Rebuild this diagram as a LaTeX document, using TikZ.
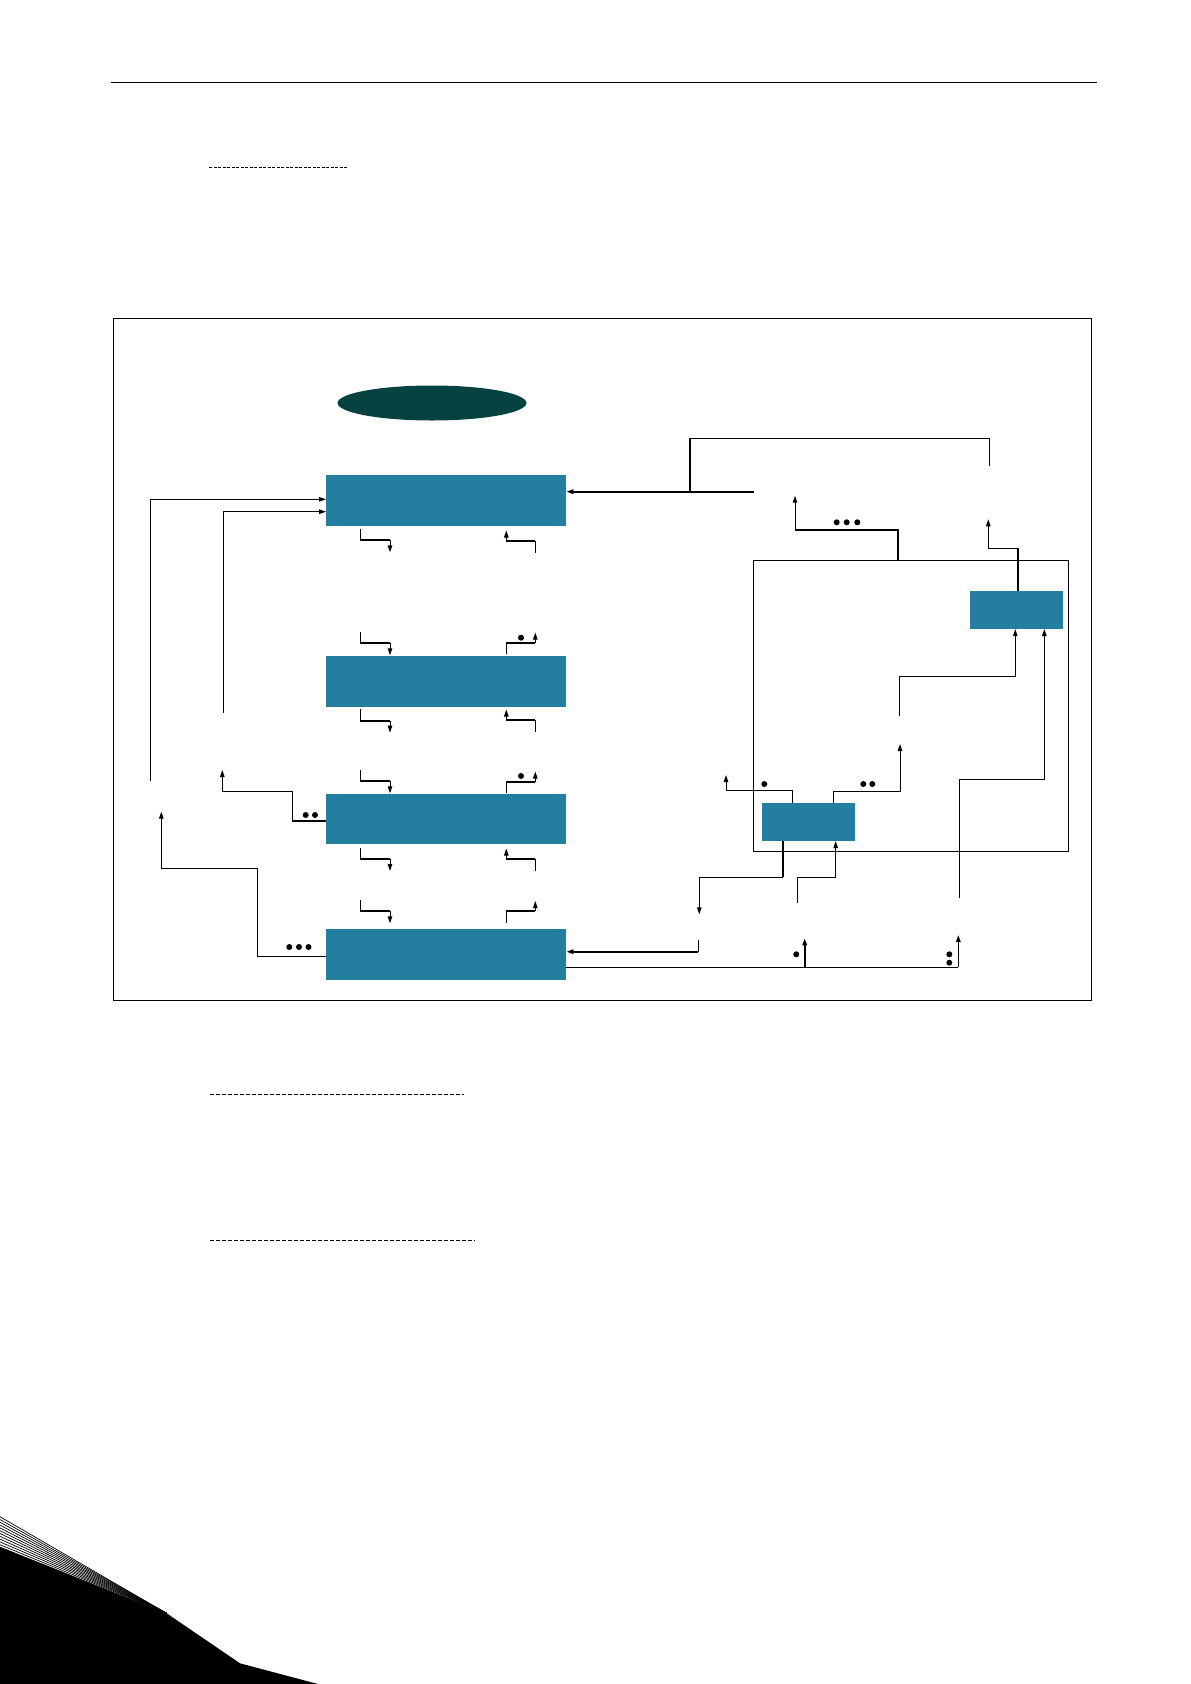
\documentclass[tikz,border=0pt]{standalone}
\usetikzlibrary{arrows.meta,shapes.geometric}
\definecolor{boxblue}{RGB}{36,126,160}
\definecolor{darkteal}{RGB}{6,67,64}
\begin{document}
\begin{tikzpicture}[x=1pt,y=-1pt,
  thin line/.style={line width=1pt},
  thick line/.style={line width=2.2pt},
  tip/.style={-{Triangle[length=7pt,width=4.5pt]}},
  blockbox/.style={fill=boxblue, draw=none, inner sep=0pt, anchor=north west},
  dotmark/.style={circle, fill=black, inner sep=0pt, minimum size=6pt}
]
\useasboundingbox (0,0) rectangle (1191,1684);
\fill[white] (0,0) rectangle (1191,1684);

% header rule and dashed rules
\draw[line width=1.3pt] (110.6,82.7) -- (1096.5,82.7);
\draw[line width=1pt, dash pattern=on 3pt off 1.5pt] (209,167.5) -- (348,167.5);
\draw[line width=1pt, dash pattern=on 4pt off 2pt] (210,1094.7) -- (464,1094.7);
\draw[line width=1pt, dash pattern=on 4pt off 2pt] (210,1240.3) -- (475.3,1240.3);

% frames
\draw[thin line] (113.3,318.3) rectangle (1091.7,1000.3);
\draw[thin line] (753.3,560) rectangle (1068.3,851);

% nodes
\node[ellipse, fill=darkteal, minimum width=189pt, minimum height=35pt, inner sep=0pt] (el) at (432,403) {};
\node[blockbox, minimum width=240pt, minimum height=51pt] (b1) at (326,475) {};
\node[blockbox, minimum width=240pt, minimum height=50.7pt] (b2) at (326,656) {};
\node[blockbox, minimum width=240pt, minimum height=50.4pt] (b3) at (326,793.3) {};
\node[blockbox, minimum width=240pt, minimum height=50.7pt] (b4) at (326,929) {};
\node[blockbox, minimum width=92.7pt, minimum height=37.7pt] (A) at (970,591) {};
\node[blockbox, minimum width=93pt, minimum height=37.7pt] (B) at (762,803) {};

% into b1 from right
\draw[thick line, tip] (754,491.7) -- (b1.east |- 0,491.7);
\draw[thick line] (690,491.7) -- (690,438.3);
\draw[thin line] (690,438.3) -- (989.3,438.3) -- (989.3,465.7);

% left feedback into b1
\draw[thin line, tip] (150.3,780.7) -- (150.3,499.3) -- (b1.west |- 0,499.3);
\draw[thin line, tip] (223.3,712.7) -- (223.3,511.7) -- (b1.west |- 0,511.7);

% inter-box connectors (left down / right up)
\foreach \t in {529,632,709.3,770,847.7,900}{
  \draw[thin line] (360,\t) -- (360,\t+11.3);
  \draw[line width=1.8pt] (360,\t+11.3) -- (390,\t+11.3);
  \draw[thin line, tip] (390,\t+11.3) -- (390,\t+23.3);
}
% right up (below boxes: start right, go left)
\foreach \b in {552.7,731.7,870.7}{
  \draw[thin line] (535.3,\b) -- (535.3,\b-11.7);
  \draw[line width=1.8pt] (535.3,\b-11.7) -- (506.3,\b-11.7);
  \draw[thin line, tip] (506.3,\b-11.7) -- (506.3,\b-22.2);
}
% right up (above boxes: start left, go right)
\foreach \b in {654.3,793.3,922.7}{
  \draw[thin line] (506.3,\b) -- (506.3,\b-11.6);
  \draw[line width=1.8pt] (506.3,\b-11.6) -- (535.3,\b-11.6);
  \draw[thin line, tip] (535.3,\b-11.6) -- (535.3,\b-21.7);
}
\node[dotmark] (d1) at (521,637.7) {};
\node[dotmark] (d2) at (521,776) {};

% b3 left output
\draw[thick line] (b3.west |- 0,821) -- (292.3,821);
\draw[thin line, tip] (292.3,821) -- (292.3,791) -- (222.3,791) -- (222.3,770);
\node[dotmark] (d3) at (305.7,815) {};
\node[dotmark] (d4) at (315,815) {};

% b4 left output
\draw[thin line, tip] (b4.west |- 0,956.3) -- (257.3,956.3) -- (257.3,868.3) -- (161.3,868.3) -- (161.3,811.7);
\node[dotmark] (d5) at (289.3,947) {};
\node[dotmark] (d6) at (299,947) {};
\node[dotmark] (d7) at (308.5,947) {};

% b4 right in/out
\draw[thin line] (698.3,940) -- (698.3,951.7);
\draw[thick line, tip] (698.3,951.7) -- (b4.east |- 0,951.7);
\draw[thin line] (b4.east |- 0,967.3) -- (958.3,967.3);
\draw[thick line, tip] (804.7,967.3) -- (804.7,938.3);
\draw[line width=1.5pt, tip] (958.3,967.3) -- (958.3,935);
\node[dotmark] (d8) at (796.3,954.3) {};
\node[dotmark] (d9) at (949.3,954.3) {};
\node[dotmark] (d10) at (949.3,962.7) {};

% upper right arrow with three dots
\draw[thin line, tip] (795,531) -- (795,495.7);
\draw[thick line] (795,530) -- (898.3,530) -- (898.3,560);
\node[dotmark] (d11) at (836.7,522.3) {};
\node[dotmark] (d12) at (846.7,522.3) {};
\node[dotmark] (d13) at (857.3,522.3) {};

% box A
\draw[thick line] (A.north -| 1018,0) -- (1018,548.3);
\draw[thin line, tip] (1018,548.3) -- (988.3,548.3) -- (988.3,519.3);
\draw[thin line, tip] (899.3,716) -- (899.3,676.3) -- (1015.3,676.3) -- (A.south -| 1015.3,0);
\draw[thin line, tip] (959.3,897.7) -- (959.3,779.3) -- (1044.3,779.3) -- (A.south -| 1044.3,0);

% box B
\draw[thin line, tip] (B.north -| 833.3,0) -- (833.3,791) -- (900,791) -- (900,744);
\node[dotmark] (d14) at (863.3,784) {};
\node[dotmark] (d15) at (872.3,784) {};
\draw[thin line, tip] (B.north -| 792.7,0) -- (792.7,790) -- (726,790) -- (726,775);
\node[dotmark] (d16) at (764.3,784) {};
\draw[thick line] (B.south -| 783,0) -- (783,877.3);
\draw[thin line, tip] (783,877.3) -- (699.3,877.3) -- (699.3,914.3);
\draw[thin line, tip] (797.3,903.3) -- (797.3,877.3) -- (835.7,877.3) -- (B.south -| 835.7,0);

% bottom-left page decoration
\foreach \k in {0,...,10}{
  \draw[line width=0.7pt] (0,1516.7+2.8*\k) -- (166.7,1613.3);
}
\fill[black] (0,1546.7) -- (166.7,1613.3) -- (240,1663.3) -- (318,1684) -- (0,1684) -- cycle;
\end{tikzpicture}
\end{document}
